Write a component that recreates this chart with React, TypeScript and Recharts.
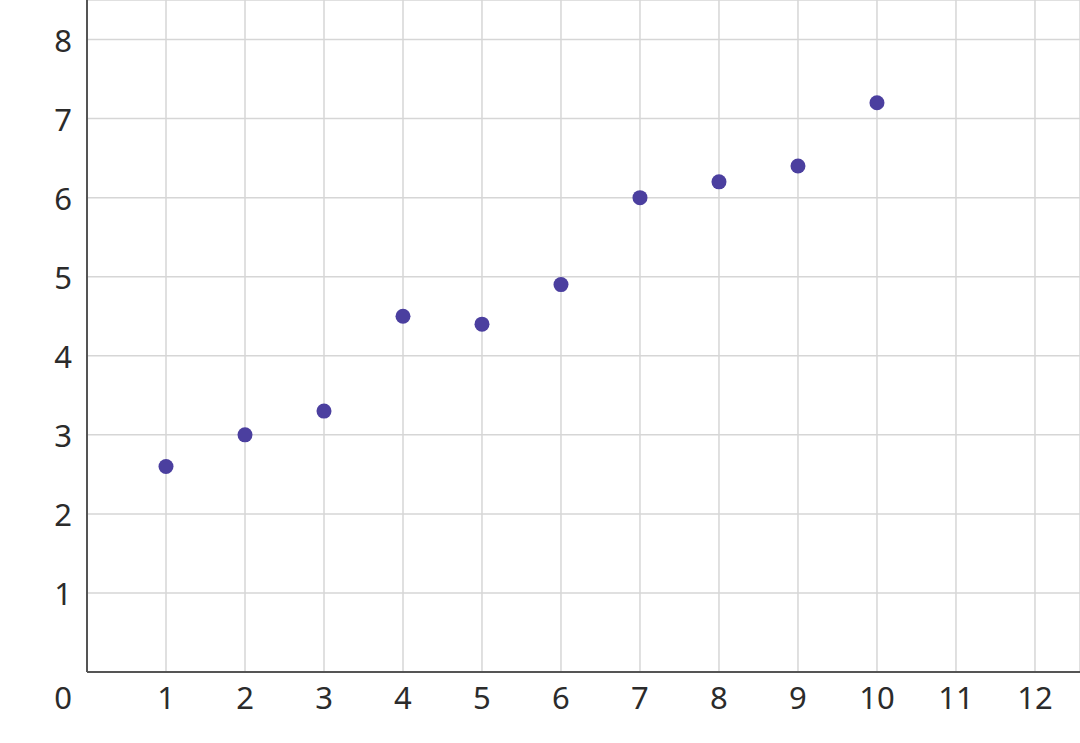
import { ScatterChart, Scatter, XAxis, YAxis, CartesianGrid } from 'recharts';

const xValues = [1, 2, 3, 4, 5, 6, 7, 8, 9, 10];
const yValues = [2.6, 3.0, 3.3, 4.5, 4.4, 4.9, 6.0, 6.2, 6.4, 7.2];
const xTicks = [1, 2, 3, 4, 5, 6, 7, 8, 9, 10, 11, 12];
const yTicks = [0, 1, 2, 3, 4, 5, 6, 7, 8];

const points = xValues.map((x, i) => ({ x, y: yValues[i] }));

const FONT = '"Noto Sans", "Open Sans", sans-serif';
const TEXT_COLOR = '#2b2b2b';

function XTick(props: any) {
  const { x, y, payload } = props;
  return (
    <text x={x} y={y} dy={37} textAnchor="middle" fontSize={31} fontFamily={FONT} fill={TEXT_COLOR}>
      {payload.value}
    </text>
  );
}

function YTick(props: any) {
  const { x, y, payload } = props;
  // the zero label sits in the corner, below the axis line
  const dy = payload.value === 0 ? 37 : 12;
  return (
    <text x={x - 15} y={y} dy={dy} textAnchor="end" fontSize={31} fontFamily={FONT} fill={TEXT_COLOR}>
      {payload.value}
    </text>
  );
}

function Dot(props: any) {
  const { cx, cy } = props;
  return <circle cx={cx} cy={cy} r={7.5} fill="#4b3f9f" />;
}

export default function App() {
  return (
    <div style={{ position: 'absolute', left: 0, top: 0, width: 1080, height: 743, background: '#fff' }}>
      <ScatterChart width={1080} height={743} margin={{ top: 0, right: 0, bottom: 0, left: 0 }}>
        <CartesianGrid stroke="#d6d6d6" strokeWidth={1.5} />
        <XAxis
          type="number"
          dataKey="x"
          domain={[0, 12.57]}
          ticks={xTicks}
          height={71}
          tickSize={0}
          tickMargin={0}
          tickLine={false}
          axisLine={{ stroke: '#555', strokeWidth: 2 }}
          tick={<XTick />}
          interval={0}
        />
        <YAxis
          type="number"
          dataKey="y"
          domain={[0, 8.5]}
          ticks={yTicks}
          width={87}
          tickSize={0}
          tickMargin={0}
          tickLine={false}
          axisLine={{ stroke: '#555', strokeWidth: 2 }}
          tick={<YTick />}
          interval={0}
        />
        <Scatter data={points} shape={<Dot />} isAnimationActive={false} />
      </ScatterChart>
    </div>
  );
}
